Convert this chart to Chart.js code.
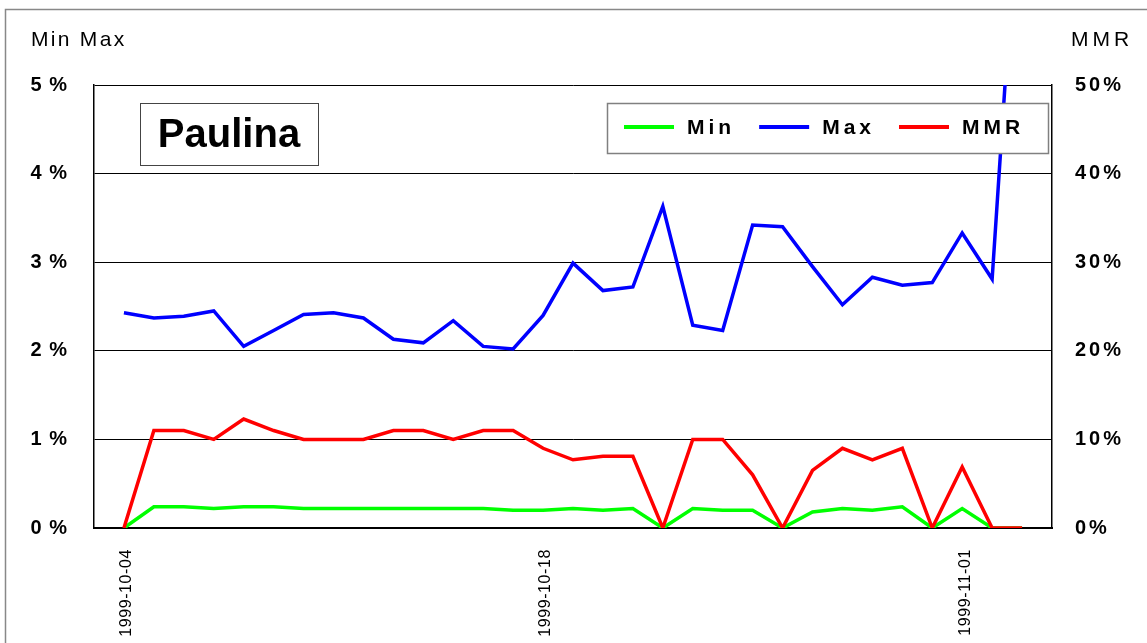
<!DOCTYPE html>
<html>
<head>
<meta charset="utf-8">
<script src="https://cdn.jsdelivr.net/npm/chart.js@4.4.1/dist/chart.umd.min.js"></script>
<style>
  html, body { margin: 0; padding: 0; background: #fff; }
  #wrap { width: 1147px; height: 643px; }
</style>
</head>
<body>
<div id="wrap"><canvas id="myChart" width="1147" height="643"></canvas></div>
<script>
const dates = [
  '1999-10-04', '1999-10-05', '1999-10-06', '1999-10-07', '1999-10-08', '1999-10-09', '1999-10-10',
  '1999-10-11', '1999-10-12', '1999-10-13', '1999-10-14', '1999-10-15', '1999-10-16', '1999-10-17',
  '1999-10-18', '1999-10-19', '1999-10-20', '1999-10-21', '1999-10-22', '1999-10-23', '1999-10-24',
  '1999-10-25', '1999-10-26', '1999-10-27', '1999-10-28', '1999-10-29', '1999-10-30', '1999-10-31',
  '1999-11-01', '1999-11-02', '1999-11-03'
];
const tickDays = [0, 14, 28];

// percent values
const minVals = [0, 0.24, 0.24, 0.22, 0.24, 0.24, 0.22, 0.22, 0.22, 0.22, 0.22, 0.22, 0.22, 0.20, 0.20, 0.22,
  0.20, 0.22, 0, 0.22, 0.20, 0.20, 0, 0.18, 0.22, 0.20, 0.24, 0, 0.22, 0, 0];
const maxVals = [2.43, 2.37, 2.39, 2.45, 2.05, 2.23, 2.41, 2.43, 2.37, 2.13, 2.09, 2.34, 2.05, 2.02, 2.40, 2.99,
  2.68, 2.72, 3.63, 2.29, 2.23, 3.42, 3.40, 2.95, 2.52, 2.83, 2.74, 2.77, 3.33, 2.81, 7.9];
const mmrVals = [0, 11, 11, 10, 12.3, 11, 10, 10, 10, 11, 11, 10, 11, 11, 9, 7.7, 8.1, 8.1, 0, 10, 10, 6, 0,
  6.5, 9, 7.7, 9, 0, 6.9, 0, 0];

const leftTicks = [0, 1, 2, 3, 4, 5];
const rightTicks = [0, 10, 20, 30, 40, 50];
const axisTitles = ['Min Max', 'MMR'];
const chartName = 'Paulina';

const FONT = '"Liberation Sans", Arial, sans-serif';

const pts = vals => vals.map((v, i) => ({ x: i, y: v }));

// wrap a scale's label drawing so its ticks get their own letter spacing
const spaced = (px, extra) => s => {
  if (extra) extra(s);
  if (s._spaced) return;
  s._spaced = true;
  const orig = s.drawLabels;
  s.drawLabels = function (area) {
    const c = this.ctx;
    c.save();
    c.letterSpacing = px + 'px';
    orig.call(this, area);
    c.restore();
  };
};

const decor = {
  id: 'decor',
  beforeDraw(chart) {
    const c = chart.ctx;
    c.save();
    c.fillStyle = '#fff';
    c.fillRect(0, 0, chart.width, chart.height);
    c.strokeStyle = '#888';
    c.lineWidth = 1.5;
    c.strokeRect(5.5, 9.5, chart.width + 10, chart.height + 10);
    c.restore();
  },
  afterDraw(chart) {
    const c = chart.ctx;
    const a = chart.chartArea;
    c.save();
    c.fillStyle = '#000';
    c.textBaseline = 'alphabetic';
    c.textAlign = 'left';
    c.font = '21px ' + FONT;
    c.letterSpacing = '2.3px';
    c.fillText(axisTitles[0], 31, 46);
    c.letterSpacing = '4px';
    c.fillText(axisTitles[1], 1071, 46);

    // name box
    c.fillStyle = '#fff';
    c.fillRect(a.left + 46, a.top + 18, 178, 62);
    c.strokeStyle = '#444';
    c.lineWidth = 1;
    c.strokeRect(a.left + 46.5, a.top + 18.5, 178, 62);
    c.fillStyle = '#000';
    c.letterSpacing = '0px';
    c.font = 'bold 40px ' + FONT;
    c.textAlign = 'center';
    c.textBaseline = 'middle';
    c.fillText(chartName, a.left + 46 + 89, a.top + 18 + 33);

    // legend box
    const bR = a.right - 4, bT = a.top + 18, bW = 441, bH = 50;
    c.fillStyle = '#fff';
    c.fillRect(bR - bW, bT, bW, bH);
    c.strokeStyle = '#808080';
    c.lineWidth = 1.5;
    c.strokeRect(bR - bW + 0.5, bT + 0.5, bW, bH);
    c.font = 'bold 21px ' + FONT;
    c.letterSpacing = '4px';
    c.textAlign = 'left';
    c.textBaseline = 'middle';
    let x = bR - bW + 17;
    const yMid = bT + 24;
    chart.data.datasets.forEach(ds => {
      c.strokeStyle = ds.borderColor;
      c.lineWidth = 4;
      c.beginPath();
      c.moveTo(x, yMid);
      c.lineTo(x + 50, yMid);
      c.stroke();
      x += 63;
      c.fillStyle = '#000';
      c.fillText(ds.label, x, yMid + 1);
      x += c.measureText(ds.label).width + 24;
    });
    c.restore();
  }
};

new Chart(document.getElementById('myChart'), {
  type: 'line',
  data: {
    datasets: [
      { label: 'Min', data: pts(minVals), borderColor: '#00FF00', yAxisID: 'y', order: 3 },
      { label: 'Max', data: pts(maxVals), borderColor: '#0000FF', yAxisID: 'y', order: 2 },
      { label: 'MMR', data: pts(mmrVals), borderColor: '#FF0000', yAxisID: 'y1', order: 1 }
    ]
  },
  options: {
    responsive: false,
    animation: false,
    devicePixelRatio: 1,
    layout: { padding: { top: 85, left: 0, right: 0, bottom: 0 } },
    elements: {
      line: { borderWidth: 3.5, tension: 0, fill: false },
      point: { radius: 0, hoverRadius: 0 }
    },
    plugins: {
      legend: { display: false },
      tooltip: { enabled: false }
    },
    scales: {
      x: {
        type: 'linear',
        min: -1,
        max: dates.length,
        afterBuildTicks: s => { s.ticks = tickDays.map(v => ({ value: v })); },
        afterFit: spaced(0.6, s => { s.height = 115; }),
        grid: { display: false, drawTicks: false },
        border: { display: true, color: '#000', width: 2 },
        ticks: {
          minRotation: 90,
          maxRotation: 90,
          padding: 21,
          labelOffset: 3,
          color: '#000',
          font: { family: FONT, size: 16 },
          callback: v => dates[v]
        }
      },
      y: {
        position: 'left',
        min: 0,
        max: 5,
        afterBuildTicks: s => { s.ticks = leftTicks.map(v => ({ value: v })); },
        afterFit: spaced(1, s => { s.width = 94; }),
        grid: { color: '#000', lineWidth: 1, drawTicks: false },
        border: { display: true, color: '#000', width: 1.5 },
        ticks: {
          padding: 26,
          color: '#000',
          font: { family: FONT, size: 20, weight: 'bold' },
          callback: v => v + ' %'
        }
      },
      y1: {
        position: 'right',
        min: 0,
        max: 50,
        afterBuildTicks: s => { s.ticks = rightTicks.map(v => ({ value: v })); },
        afterFit: spaced(3, s => { s.width = 95; }),
        grid: { display: false, drawTicks: false },
        border: { display: true, color: '#000', width: 1.5 },
        ticks: {
          padding: 23,
          color: '#000',
          font: { family: FONT, size: 20, weight: 'bold' },
          callback: v => v + '%'
        }
      }
    }
  },
  plugins: [decor]
});
</script>
</body>
</html>
